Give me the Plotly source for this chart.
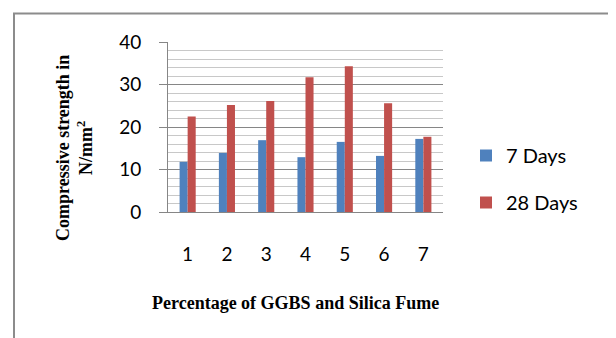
import plotly.graph_objects as go

categories = ["1", "2", "3", "4", "5", "6", "7"]
days7 = [11.8, 13.9, 16.9, 12.9, 16.5, 13.2, 17.2]
days28 = [22.5, 25.2, 26.1, 31.7, 34.3, 25.6, 17.7]
y_ticks = [0, 10, 20, 30, 40]

BLUE = "#4f81bd"
RED = "#c0504d"
GRID = "#868686"
MINOR = "#c8c8c8"
TICKFONT = dict(family="Lato, 'Open Sans', sans-serif", size=19, color="#000")
LEGFONT = dict(family="Lato, 'Open Sans', sans-serif", size=20, color="#000")
TITLEFONT = dict(family="'Liberation Serif', 'Times New Roman', serif", size=18, color="#000")

fig = go.Figure()
fig.add_trace(go.Bar(x=categories, y=days7, name="7 Days", marker_color=BLUE,
                     marker_line_width=0, legendgroup="a"))
fig.add_trace(go.Bar(x=categories, y=days28, name="28 Days", marker_color=RED,
                     marker_line_width=0, legendgroup="b"))

OFF = 8  # page body margin
W, H = 616, 338
L, T = 168 - OFF, 42 - OFF
R = W - (443 - OFF)
B = H - (212 - OFF)
pw = W - L - R
ph = H - T - B

def px_x(x):
    return (x - OFF - L) / pw

def px_y(y):
    return (H - B - (y - OFF)) / ph

fig.update_layout(
    width=W, height=H,
    margin=dict(l=L, r=R, t=T, b=B, autoexpand=False),
    paper_bgcolor="white", plot_bgcolor="white",
    barmode="group", bargap=0.59, bargroupgap=0,
    showlegend=True,
    legend=dict(x=px_x(466), y=px_y(136), xanchor="left", yanchor="top",
                font=LEGFONT, tracegroupgap=18, itemwidth=30,
                bgcolor="rgba(0,0,0,0)"),
    xaxis=dict(type="category", showgrid=False, showline=True, linecolor=GRID,
               linewidth=1, ticks="", tickfont=TICKFONT, ticklabelstandoff=25,
               zeroline=False, automargin=False),
    yaxis=dict(range=[0, 40], tickvals=y_ticks, showgrid=True, gridcolor=GRID,
               gridwidth=1, showline=True, linecolor=GRID, linewidth=1,
               ticks="outside", ticklen=8, tickcolor=GRID, tickfont=TICKFONT,
               ticklabelstandoff=14, zeroline=False, automargin=False,
               minor=dict(dtick=2, showgrid=True, gridcolor=MINOR, gridwidth=1)),
    shapes=[dict(type="rect", xref="paper", yref="paper",
                 x0=px_x(14), x1=px_x(700), y0=px_y(400), y1=px_y(13.5),
                 line=dict(color="#8c8c8c", width=2), layer="below")],
    annotations=[
        dict(text="<b>Compressive strength in<br>N/mm<sup>2</sup></b>",
             xref="paper", yref="paper", x=px_x(74), y=px_y(148),
             xanchor="center", yanchor="middle", textangle=-90,
             showarrow=False, font=TITLEFONT),
        dict(text="<b>Percentage of GGBS and Silica Fume</b>",
             xref="paper", yref="paper", x=px_x(295), y=px_y(303),
             xanchor="center", yanchor="middle", showarrow=False, font=TITLEFONT),
    ],
)

fig.write_html("out.html")
